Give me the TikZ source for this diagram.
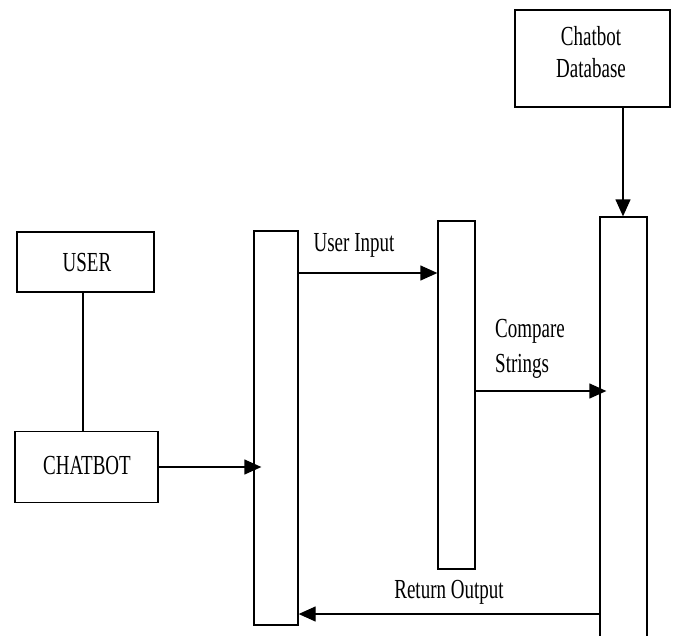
\documentclass[tikz,border=0pt]{standalone}
\usepackage{fontspec}
\setmainfont{Liberation Serif}
\usetikzlibrary{arrows.meta}
\newcommand\talltxt[1]{\scalebox{1}[1.45]{#1}}
\begin{document}
\begin{tikzpicture}[x=1pt,y=-1pt,
  box/.style={draw,line width=1.3pt,rectangle,inner sep=0pt},
  lane/.style={draw,line width=1.3pt,rectangle,inner sep=0pt},
  lbl/.style={font=\fontsize{19}{32}\selectfont,inner sep=0pt},
  msg/.style={line width=1.3pt,-{Triangle[length=17pt,width=15pt]}},
  plain/.style={line width=1.3pt}]
\clip (0,0) rectangle (675,635);
% boxes
\node[box,minimum width=155pt,minimum height=97pt] (db) at (592.5,58.5) {};
\node[lbl,align=center] (dbt) at (591,52) {\talltxt{Chatbot}\\\talltxt{Database}};
\node[box,minimum width=137pt,minimum height=60pt] (user) at (85.5,262) {};
\node[lbl] (usert) at (87,263) {\talltxt{USER}};
\node[box,minimum width=143pt,minimum height=71pt] (chat) at (86.5,467) {};
\node[lbl] (chatt) at (87,466) {\talltxt{CHATBOT}};
% lifelines
\node[lane,minimum width=44pt,minimum height=394pt] (L) at (276,428) {};
\node[lane,minimum width=37pt,minimum height=348pt] (M) at (456.5,395) {};
\node[lane,minimum width=47pt,minimum height=430pt] (R) at (623.5,432) {};
% connectors
\draw[plain] (user.south -| 83,0) -- (chat.north -| 83,0);
\draw[msg] (chat.east |- 0,467) -- ([xshift=8pt]L.west |- 0,467);
\draw[msg] (L.east |- 0,273) -- (M.west |- 0,273);
\draw[msg] (M.east |- 0,391) -- ([xshift=7pt]R.west |- 0,391);
\draw[msg] (db.south -| 623,0) -- (R.north -| 623,0);
\draw[msg] (R.west |- 0,614) -- (L.east |- 0,614);
% labels
\node[lbl] (ui) at (354,245) {\talltxt{User Input}};
\node[lbl,font=\fontsize{19}{35}\selectfont,align=left,anchor=north west] (cs) at (495,319) {\talltxt{Compare}\\\talltxt{Strings}};
\node[lbl] (ro) at (449,592) {\talltxt{Return Output}};
\end{tikzpicture}
\end{document}
